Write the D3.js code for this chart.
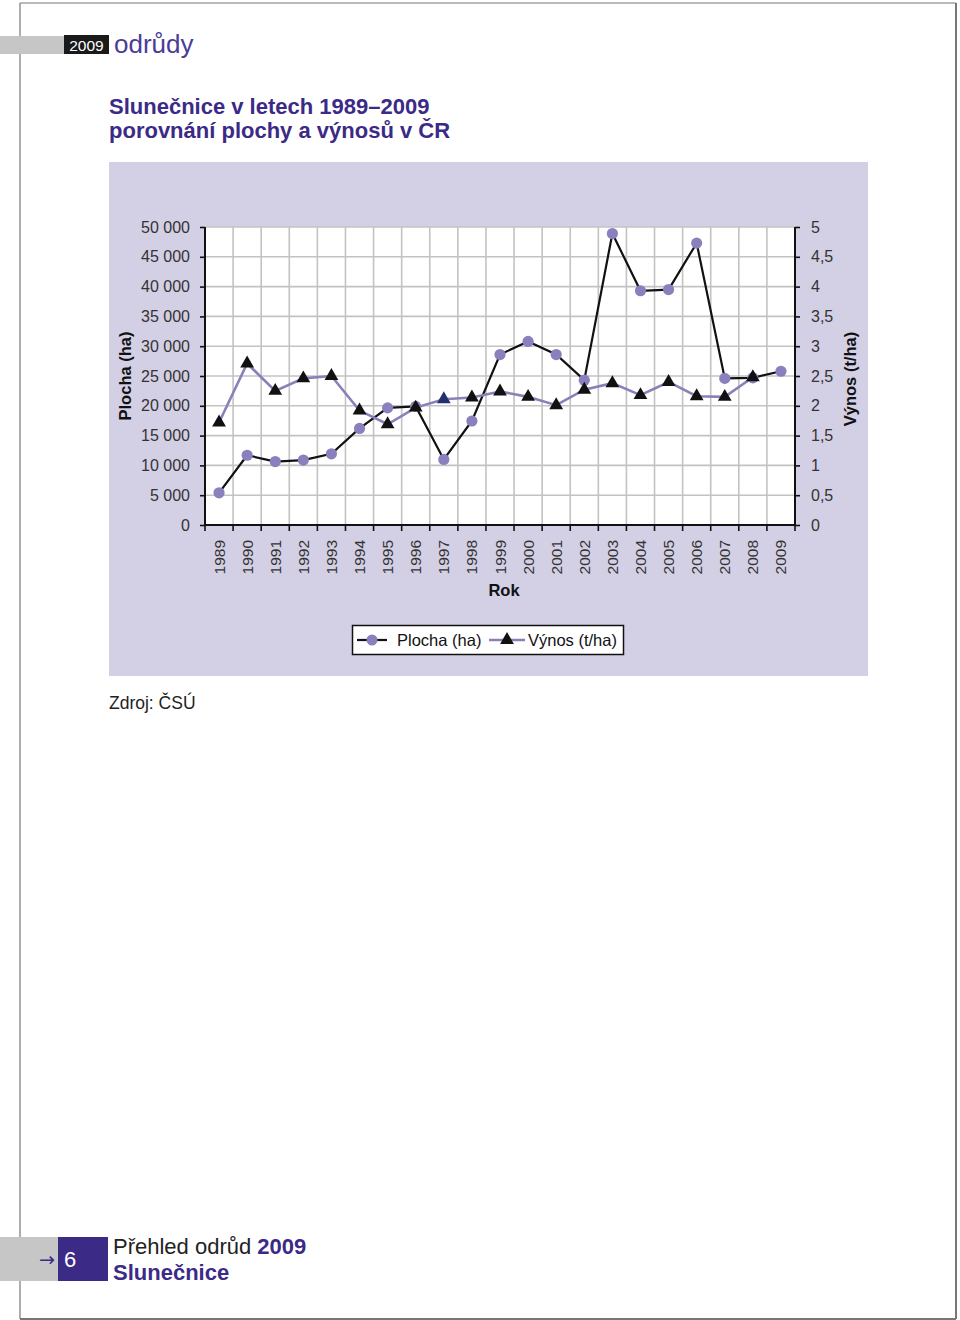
<!DOCTYPE html>
<html><head><meta charset="utf-8">
<script src="https://cdn.jsdelivr.net/npm/d3@7"></script>
<style>
html,body{margin:0;padding:0;background:#fff;}
svg{display:block;font-family:"Liberation Sans",Arial,Helvetica,sans-serif;}
</style></head>
<body>
<svg id="c" width="960" height="1320"></svg>
<script>
const years = ["1989","1990","1991","1992","1993","1994","1995","1996","1997","1998","1999","2000","2001","2002","2003","2004","2005","2006","2007","2008","2009"];
const plocha = [5400, 11700, 10650, 10900, 11950, 16200, 19650, 19900, 11000, 17450, 28600, 30800, 28600, 24300, 48900, 39300, 39500, 47300, 24600, 24700, 25800];
const vynos = [1.72, 2.71, 2.25, 2.46, 2.50, 1.92, 1.69, 1.97, 2.11, 2.14, 2.24, 2.15, 2.01, 2.27, 2.38, 2.18, 2.40, 2.16, 2.15, 2.48, null];
const leftTicks = [0, 5000, 10000, 15000, 20000, 25000, 30000, 35000, 40000, 45000, 50000];
const rightTicks = [0, 0.5, 1, 1.5, 2, 2.5, 3, 3.5, 4, 4.5, 5];

const svg = d3.select("#c");
const purple = "#3b2a86";
const loc = d3.formatLocale({decimal: ",", thousands: "\u00a0", grouping: [3], currency: ["", ""]});
const fmtL = loc.format(",d");
const fmtR = v => String(v).replace(".", ",");

// page frame
svg.append("line").attr("x1",20).attr("y1",3).attr("x2",956).attr("y2",3).attr("stroke","#777").attr("stroke-width",1.2);
svg.append("line").attr("x1",20).attr("y1",3).attr("x2",20).attr("y2",1319).attr("stroke","#777").attr("stroke-width",1.2);
svg.append("line").attr("x1",956).attr("y1",3).attr("x2",956).attr("y2",1319).attr("stroke","#777").attr("stroke-width",2);
svg.append("line").attr("x1",20).attr("y1",1319).attr("x2",956).attr("y2",1319).attr("stroke","#777").attr("stroke-width",2);

// header
svg.append("rect").attr("x",0).attr("y",36).attr("width",64).attr("height",18).attr("fill","#c6c6c6");
svg.append("rect").attr("x",64).attr("y",35).attr("width",45).attr("height",19).attr("fill","#1a1a1a");
svg.append("text").attr("x",86.5).attr("y",50.5).attr("text-anchor","middle").attr("fill","#fff").attr("font-size",15.5).text("2009");
svg.append("text").attr("x",114).attr("y",53).attr("fill","#4b3c98").attr("font-size",26).text("odrůdy");

// title
svg.append("text").attr("x",109).attr("y",114).attr("fill",purple).attr("font-size",22).attr("font-weight","bold").text("Slunečnice v letech 1989–2009");
svg.append("text").attr("x",109).attr("y",138).attr("fill",purple).attr("font-size",22).attr("font-weight","bold").text("porovnání plochy a výnosů v ČR");

// chart background
svg.append("rect").attr("x",109).attr("y",162).attr("width",759).attr("height",514).attr("fill","#d3cfe5");

const L = 205, R = 795, T = 227, B = 525;
const x = d3.scaleBand().domain(years).range([L, R]).padding(0);
const yL = d3.scaleLinear().domain([0, 50000]).range([B, T]);
const yR = d3.scaleLinear().domain([0, 5]).range([B, T]);

svg.append("rect").attr("x",L).attr("y",T).attr("width",R-L).attr("height",B-T).attr("fill","#fff");

// grid
const g = svg.append("g");
g.selectAll(".hg").data(leftTicks.slice(1)).enter().append("line")
  .attr("x1",L).attr("x2",R).attr("y1",d=>yL(d)).attr("y2",d=>yL(d))
  .attr("stroke","#c3c3c3").attr("stroke-width",1.6);
g.selectAll(".vg").data(years.slice(1)).enter().append("line")
  .attr("x1",d=>x(d)).attr("x2",d=>x(d)).attr("y1",T).attr("y2",B)
  .attr("stroke","#c3c3c3").attr("stroke-width",1.6);

// axes
const axL = svg.append("g").attr("transform",`translate(${L},0)`)
  .call(d3.axisLeft(yL).tickValues(leftTicks).tickFormat(fmtL).tickSize(5).tickPadding(10));
const axR = svg.append("g").attr("transform",`translate(${R},0)`)
  .call(d3.axisRight(yR).tickValues(rightTicks).tickFormat(fmtR).tickSize(5).tickPadding(11));
[axL, axR].forEach(a => {
  a.select(".domain").attr("stroke","#111").attr("stroke-width",2).attr("d", `M0,${T}V${B}`);
  a.selectAll(".tick line").attr("stroke","#111").attr("stroke-width",1.6);
  a.selectAll(".tick text").attr("font-size",16).attr("fill","#333").attr("font-family","Liberation Sans, Arial, sans-serif");
});
// bottom axis line
svg.append("line").attr("x1",L-1).attr("x2",R+1).attr("y1",B).attr("y2",B).attr("stroke","#111").attr("stroke-width",2);
svg.selectAll(".bt").data(years.concat(["end"])).enter().append("line")
  .attr("x1",d=> d==="end" ? R : x(d)).attr("x2",d=> d==="end" ? R : x(d))
  .attr("y1",B).attr("y2",B+6).attr("stroke","#111").attr("stroke-width",1.6);
svg.selectAll(".yl").data(years).enter().append("text")
  .attr("transform",d=>`translate(${x(d)+x.bandwidth()/2+5.5},540) rotate(-90)`)
  .attr("text-anchor","end").attr("font-size",15.5).attr("fill","#333").text(d=>d);

svg.append("text").attr("x",504).attr("y",596).attr("text-anchor","middle").attr("font-size",16.5).attr("font-weight","bold").attr("fill","#111").text("Rok");
svg.append("text").attr("transform","translate(131,376) rotate(-90)").attr("text-anchor","middle").attr("font-size",16.5).attr("font-weight","bold").attr("fill","#111").text("Plocha (ha)");
svg.append("text").attr("transform","translate(856,379) rotate(-90)").attr("text-anchor","middle").attr("font-size",16.5).attr("font-weight","bold").attr("fill","#111").text("Výnos (t/ha)");

const cx = d => x(d) + x.bandwidth()/2;
const circleColor = "#8b80bd";
const lineP = "#8a80b8";

// Plocha line
const pdata = years.map((yr,i)=>({yr, v:plocha[i]}));
svg.append("path").datum(pdata)
  .attr("d", d3.line().x(d=>cx(d.yr)).y(d=>yL(d.v)))
  .attr("fill","none").attr("stroke","#111").attr("stroke-width",2.2);
svg.selectAll(".pc").data(pdata).enter().append("circle")
  .attr("cx",d=>cx(d.yr)).attr("cy",d=>yL(d.v)).attr("r",5.6).attr("fill",circleColor);

// Výnos line
const vdata = years.map((yr,i)=>({yr, v:vynos[i]})).filter(d=>d.v!=null);
svg.append("path").datum(vdata)
  .attr("d", d3.line().x(d=>cx(d.yr)).y(d=>yR(d.v)))
  .attr("fill","none").attr("stroke",lineP).attr("stroke-width",2.6);
const tri = d3.symbol().type(d3.symbolTriangle).size(82);
svg.selectAll(".vt").data(vdata).enter().append("path")
  .attr("d",tri).attr("transform",d=>`translate(${cx(d.yr)},${yR(d.v)})`)
  .attr("fill",d=>d.yr==="1997" ? "#23306e" : "#111");

// legend
const lg = svg.append("g");
lg.append("rect").attr("x",352.5).attr("y",625.5).attr("width",271).attr("height",29).attr("fill","#fff").attr("stroke","#111").attr("stroke-width",1.5);
lg.append("line").attr("x1",357).attr("x2",387).attr("y1",640).attr("y2",640).attr("stroke","#111").attr("stroke-width",2.2);
lg.append("circle").attr("cx",372).attr("cy",640).attr("r",5.5).attr("fill",circleColor);
lg.append("text").attr("x",397).attr("y",646).attr("font-size",16.5).attr("fill","#111").text("Plocha (ha)");
lg.append("line").attr("x1",489).attr("x2",525).attr("y1",640).attr("y2",640).attr("stroke",lineP).attr("stroke-width",2.6);
lg.append("path").attr("d",tri).attr("transform","translate(507,640)").attr("fill","#111");
lg.append("text").attr("x",528).attr("y",646).attr("font-size",16.5).attr("fill","#111").text("Výnos (t/ha)");

// source
svg.append("text").attr("x",109).attr("y",709).attr("font-size",17.5).attr("fill","#222").text("Zdroj: ČSÚ");

// footer
svg.append("rect").attr("x",0).attr("y",1237).attr("width",58).attr("height",44).attr("fill","#c6c6c6");
svg.append("text").attr("x",39).attr("y",1266).attr("font-size",19).attr("font-family","DejaVu Sans").attr("fill","#3b2a86").text("→");
svg.append("rect").attr("x",58).attr("y",1237).attr("width",50).attr("height",44).attr("fill","#3b2a86");
svg.append("text").attr("x",64).attr("y",1267).attr("font-size",22).attr("fill","#fff").text("6");
const ft = svg.append("text").attr("x",113).attr("y",1254).attr("font-size",22).attr("fill","#222");
ft.append("tspan").text("Přehled odrůd ");
ft.append("tspan").attr("font-weight","bold").attr("fill",purple).text("2009");
svg.append("text").attr("x",113).attr("y",1280).attr("font-size",22).attr("font-weight","bold").attr("fill",purple).text("Slunečnice");
</script>
</body></html>
